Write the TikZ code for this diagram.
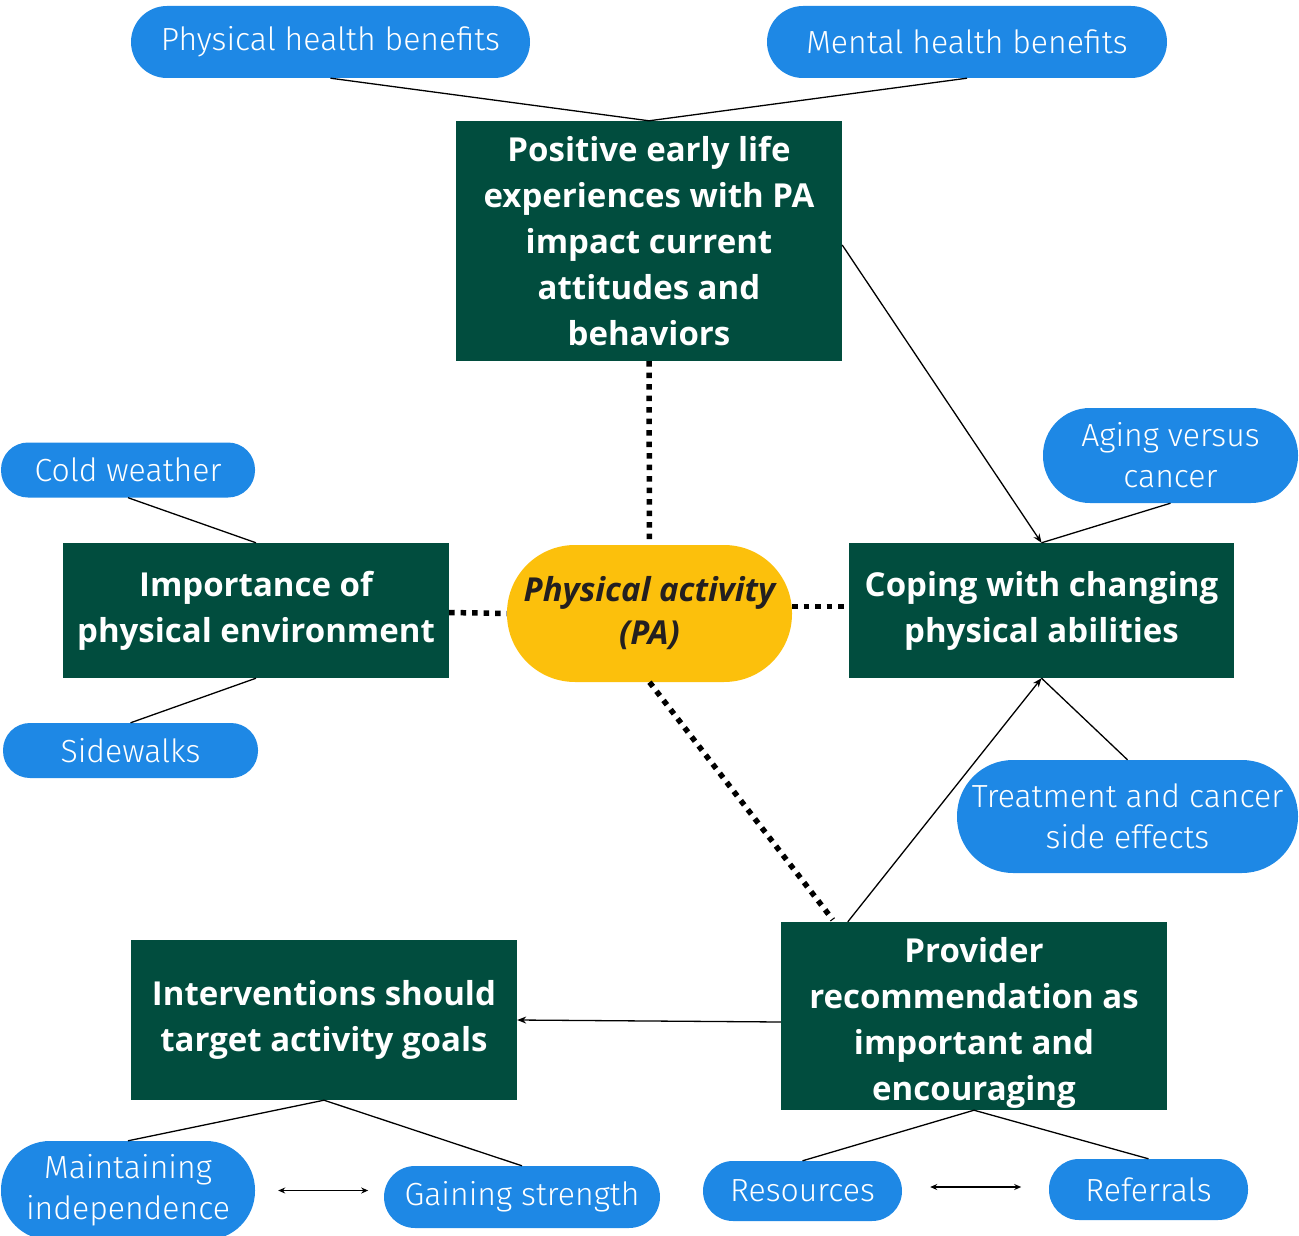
\documentclass[tikz,border=0pt]{standalone}
\usepackage{fontspec}
\usetikzlibrary{arrows.meta}
\newfontfamily\pillfont{Fira Sans Light}
\newfontfamily\boxfont{Open Sans}
\definecolor{pillblue}{RGB}{30,136,229}
\definecolor{boxgreen}{RGB}{1,77,62}
\definecolor{payellow}{RGB}{252,192,12}
\definecolor{patext}{RGB}{35,31,32}
\tikzset{
  pill/.style={fill=pillblue, text=white, align=center, inner sep=0pt,
    font=\pillfont\fontsize{32}{41}\selectfont},
  gtext/.style={text=white, align=center, inner sep=0pt,
    font=\boxfont\bfseries\fontsize{33}{46}\selectfont},
  gbox/.style={gtext, fill=boxgreen},
  pabox/.style={fill=payellow, text=patext, align=center, inner sep=0pt,
    font=\boxfont\bfseries\itshape\fontsize{33}{43}\selectfont},
  link/.style={draw=black, line width=1.3pt},
  arr/.style={link, -{Stealth[length=9pt,width=7pt]}},
  dbl/.style={link, {Stealth[length=7pt,width=6pt]}-{Stealth[length=7pt,width=6pt]}},
  dots/.style={draw=black, line width=5.5pt, dash pattern=on 5.5pt off 6pt},
}
\begin{document}
\begin{tikzpicture}[x=1pt,y=-1pt]
\useasboundingbox (0,0) rectangle (1299,1236);
\clip (0,0) rectangle (1299,1236);
% pills
\node[pill, minimum width=399pt, minimum height=72pt, rounded corners=36pt] (phb) at (330.5,42) {Physical health benefits};
\node[pill, minimum width=400pt, minimum height=72pt, rounded corners=36pt] (mhb) at (967,42) {Mental health benefits};
\node[pill, minimum width=255pt, minimum height=95pt, rounded corners=47pt] (age) at (1170.5,455.5) {Aging versus\\cancer};
\node[pill, minimum width=254pt, minimum height=55pt, rounded corners=27pt] (cold) at (128,470) {Cold weather};
\node[pill, minimum width=255pt, minimum height=55pt, rounded corners=27pt] (side) at (130.5,750.5) {Sidewalks};
\node[pill, minimum width=341pt, minimum height=113pt, rounded corners=56pt] (treat) at (1127.5,816.5) {Treatment and cancer\\side effects};
\node[pill, minimum width=254pt, minimum height=99pt, rounded corners=49pt] (maint) at (128,1190.5) {Maintaining\\independence};
\node[pill, minimum width=276pt, minimum height=62pt, rounded corners=31pt] (gain) at (522,1197) {Gaining strength};
\node[pill, minimum width=199pt, minimum height=60pt, rounded corners=30pt] (res) at (802.5,1191) {Resources};
\node[pill, minimum width=199pt, minimum height=61pt, rounded corners=30pt] (ref) at (1148.5,1189.5) {Referrals};
% green boxes
\node[gbox, minimum width=386pt, minimum height=240pt] (early) at (649,241) {Positive early life\\experiences with PA\\impact current\\attitudes and\\behaviors};
\node[gbox, minimum width=386pt, minimum height=135pt] (imp) at (256,610.5) {Importance of\\physical environment};
\node[gbox, minimum width=385pt, minimum height=135pt] (cope) at (1041.5,610.5) {Coping with changing\\physical abilities};
\node[gbox, minimum width=386pt, minimum height=188pt] (prov) at (974,1016) {};
\node[gtext] (provtext) at ([yshift=-7pt]prov.center) {Provider\\recommendation as\\important and\\encouraging};
\node[gbox, minimum width=386pt, minimum height=160pt] (int) at (324,1020) {Interventions should\\target activity goals};
% central
\node[pabox, minimum width=285pt, minimum height=137pt, rounded corners=68pt] (pa) at (649.5,613.5) {Physical activity\\(PA)};
% thin connectors
\draw[link] (phb.south) -- (early.north);
\draw[link] (mhb.south) -- (early.north);
\draw[arr] ([yshift=-4pt]early.east) -- (cope.north);
\draw[link] (age.south) -- (cope.north);
\draw[link] (cold.south) -- (imp.north);
\draw[link] (side.north) -- (imp.south);
\draw[link] (treat.north) -- (cope.south);
\draw[arr] ([xshift=67pt]prov.north west) -- (cope.south);
\draw[arr] ([yshift=-6pt]prov.west) -- (int.east);
\draw[link] (int.south) -- (maint.north);
\draw[link] (int.south) -- (gain.north);
\draw[link] (prov.south) -- (res.north);
\draw[link] (prov.south) -- (ref.north);
\draw[dbl] ([xshift=23pt]maint.east) -- ++(90,0);
\draw[dbl] ([xshift=28pt,yshift=4pt]res.east) -- ++(91,0);
% dotted connectors
\draw[dots] (early.south) -- (pa.north);
\draw[dots] ([yshift=-2pt]imp.east) -- (pa.west);
\draw[dots] ([yshift=7pt]pa.east) -- ([yshift=4pt]cope.west);
\draw[dots] (pa.south) -- ([xshift=52pt,yshift=2pt]prov.north west);
\end{tikzpicture}
\end{document}
